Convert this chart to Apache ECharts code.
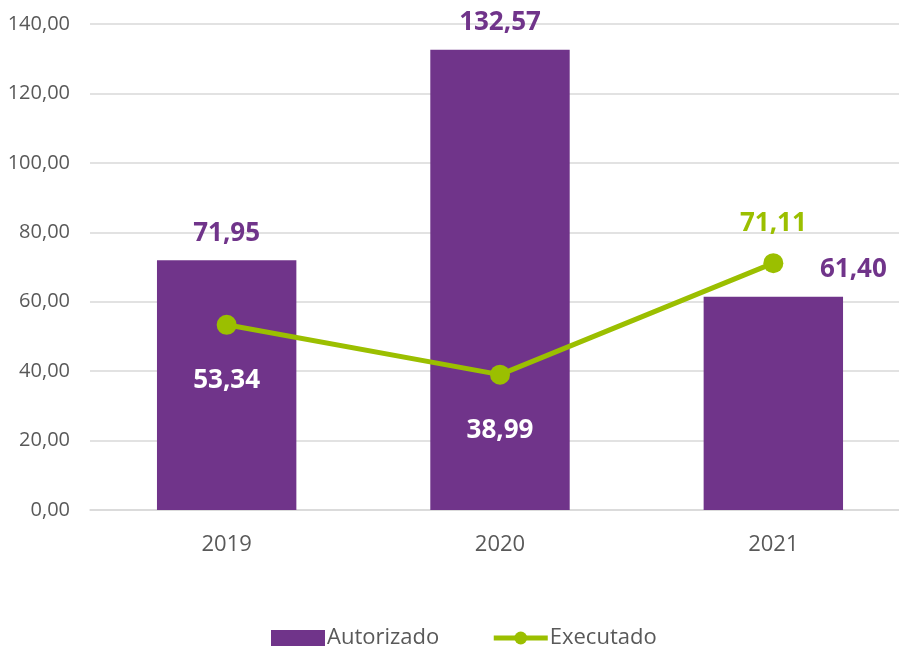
<!DOCTYPE html>
<html>
<head>
<meta charset="utf-8">
<script src="https://cdn.jsdelivr.net/npm/echarts@6/dist/echarts.min.js"></script>
<style>
    html, body { margin: 0; padding: 0; background: #fff; overflow: hidden; }
    /* a área do gráfico continua além da borda direita da imagem */
    #chart { width: 910px; height: 648px; }
</style>
</head>
<body>
<div id="chart"></div>
<script>
const years = ['2019', '2020', '2021']
const autorizado = [71.95, 132.57, 61.40]
const executado = [53.34, 38.99, 71.11]

const purple = '#70348a'
const green = '#9bbf00'
const fontName = '"Open Sans", sans-serif'

function fmt(v) {
    return v.toFixed(2).replace('.', ',')
}

function barData() {
    return autorizado.map((v, i) => {
        const item = { value: v }
        // o último rótulo fica deslocado para a direita
        if (i === 2) {
            item.label = { offset: [80, 0] }
        }
        return item
    })
}

function lineData() {
    return executado.map((v, i) => {
        const item = { value: v }
        if (i === 2) {
            item.label = { position: 'top', distance: 17, color: green }
        }
        return item
    })
}

const chart = echarts.init(document.getElementById('chart'))

const option = {
    animation: false,
    grid: { left: 90, right: 0, top: 24, bottom: 138 },
    legend: {
        top: 622,
        left: 266,
        itemWidth: 54,
        itemHeight: 16,
        itemGap: 52,
        textStyle: { fontFamily: fontName, fontSize: 22, color: '#595959', padding: [0, 0, 0, -3] },
        data: [
            { name: 'Autorizado', icon: 'rect' },
            { name: 'Executado', lineStyle: { width: 5 } }
        ]
    },
    xAxis: {
        type: 'category',
        data: years,
        axisLine: { lineStyle: { color: '#d9d9d9', width: 1.5 } },
        axisTick: { show: false },
        axisLabel: { fontFamily: fontName, fontSize: 22, color: '#595959', margin: 24 }
    },
    yAxis: {
        type: 'value',
        min: 0,
        max: 140,
        interval: 20,
        axisLine: { show: false },
        axisTick: { show: false },
        splitLine: { lineStyle: { color: '#d9d9d9', width: 1.5 } },
        axisLabel: {
            fontFamily: fontName,
            fontSize: 20,
            color: '#595959',
            margin: 20,
            formatter: v => fmt(v)
        }
    },
    series: [
        {
            name: 'Autorizado',
            type: 'bar',
            barWidth: '51%',
            itemStyle: { color: purple },
            label: {
                show: true,
                position: 'top',
                distance: 14,
                fontFamily: fontName,
                fontWeight: 'bold',
                fontSize: 26,
                color: purple,
                formatter: p => fmt(p.value)
            },
            data: barData()
        },
        {
            name: 'Executado',
            type: 'line',
            symbol: 'circle',
            symbolSize: 20,
            lineStyle: { color: green, width: 5 },
            itemStyle: { color: green },
            label: {
                show: true,
                position: 'bottom',
                distance: 33,
                fontFamily: fontName,
                fontWeight: 'bold',
                fontSize: 26,
                color: '#fff',
                formatter: p => fmt(p.value)
            },
            data: lineData()
        }
    ]
}

chart.setOption(option)
</script>
</body>
</html>
